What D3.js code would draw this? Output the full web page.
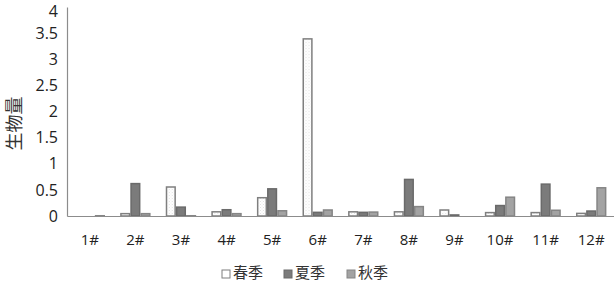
<!DOCTYPE html>
<html>
<head>
<meta charset="utf-8">
<script src="https://cdn.jsdelivr.net/npm/d3@7"></script>
<style>
  body { margin: 0; background: #fff; }
  svg { display: block; }
  text { font-family: "Open Sans", "Liberation Sans", sans-serif; fill: #222; }
  .cjk { font-family: "Noto Sans CJK SC", sans-serif; }
</style>
</head>
<body>
<svg id="chart" width="614" height="284"></svg>
<script>
// 站点与季节
const sites = ["1#", "2#", "3#", "4#", "5#", "6#", "7#", "8#", "9#", "10#", "11#", "12#"];
const seasons = ["春季", "夏季", "秋季"];

// 各季节生物量
const spring = [0, 0.045, 0.555, 0.08, 0.35, 3.39, 0.08, 0.08, 0.115, 0.065, 0.065, 0.05];
const summer = [0, 0.62, 0.17, 0.12, 0.52, 0.07, 0.07, 0.70, 0.02, 0.20, 0.61, 0.095];
const autumn = [0.005, 0.045, 0.005, 0.045, 0.10, 0.115, 0.075, 0.18, 0, 0.36, 0.11, 0.54];

const yTicks = [0, 0.5, 1, 1.5, 2, 2.5, 3, 3.5, 4];
const yTickLabels = ["0", "0.5", "1", "1.5", "2", "2.5", "3", "3.5", "4"];

const seriesValues = [spring, summer, autumn];
const fills = ["url(#spring-dots)", "#7b7b7b", "#a3a3a3"];
const strokes = ["#7f7f7f", "#6a6a6a", "#858585"];

const svg = d3.select("#chart");
const margin = { left: 67, right: 0, top: 7, bottom: 68 };
const width = 614, height = 284;

// 春季的浅色点状填充
const defs = svg.append("defs");
const pat = defs.append("pattern")
  .attr("id", "spring-dots")
  .attr("width", 3).attr("height", 3)
  .attr("patternUnits", "userSpaceOnUse");
pat.append("rect").attr("width", 3).attr("height", 3).attr("fill", "#fff");
pat.append("rect").attr("width", 1).attr("height", 1).attr("fill", "#e2e2e2");
pat.append("rect").attr("x", 1.5).attr("y", 1.5).attr("width", 1).attr("height", 1).attr("fill", "#ececec");

const x0 = d3.scaleBand()
  .domain(sites)
  .range([margin.left, width - margin.right])
  .paddingInner(0.333)
  .paddingOuter(0.1665);

const x1 = d3.scaleBand()
  .domain(seasons)
  .range([0, x0.bandwidth()]);

const y = d3.scaleLinear()
  .domain([0, 4])
  .range([height - margin.bottom, margin.top]);

// 柱子
const groups = svg.append("g").selectAll("g")
  .data(sites)
  .join("g")
  .attr("transform", d => `translate(${x0(d)},0)`);

groups.selectAll("rect")
  .data((d, i) => seasons.map((s, k) => ({ season: s, k, value: seriesValues[k][i] })))
  .join("rect")
  .attr("x", d => x1(d.season) + 0.75)
  .attr("width", x1.bandwidth() - 1.5)
  .attr("y", d => y(d.value))
  .attr("height", d => y(0) - y(d.value))
  .attr("fill", d => fills[d.k])
  .attr("stroke", d => strokes[d.k])
  .attr("stroke-width", 1.5);

// y 轴
const yAxis = svg.append("g")
  .attr("transform", `translate(${margin.left},0)`)
  .call(d3.axisLeft(y).tickValues(yTicks).tickFormat((d, i) => yTickLabels[i]).tickSize(0).tickPadding(9));
yAxis.select(".domain").attr("stroke", "#8c8c8c").attr("stroke-width", 1.2);
yAxis.selectAll("text").style("font-size", "16px").attr("fill", "#1a1a1a")
  .style("font-family", "'Open Sans', 'Liberation Sans', sans-serif");
// 顶部 “4” 稍下移以免被裁
yAxis.selectAll(".tick").filter(d => d === 4).select("text").attr("dy", "0.6em");

// x 轴
const xAxis = svg.append("g")
  .attr("transform", `translate(0,${y(0)})`)
  .call(d3.axisBottom(x0).tickSize(0).tickPadding(18).tickSizeOuter(0));
xAxis.select(".domain").attr("stroke", "#8c8c8c").attr("stroke-width", 1.2);
xAxis.selectAll("text").style("font-size", "15px").attr("fill", "#1a1a1a")
  .style("font-family", "'Open Sans', 'Liberation Sans', sans-serif");

// y 轴标题
svg.append("text")
  .attr("class", "cjk")
  .attr("transform", `translate(21,${(margin.top + y(0)) / 2 + 12}) rotate(-90)`)
  .attr("text-anchor", "middle")
  .style("font-size", "18px")
  .style("fill", "#333")
  .text("生物量");

// 图例
const legendX = [222, 284, 347];
const legend = svg.append("g").selectAll("g")
  .data(seasons)
  .join("g")
  .attr("transform", (d, i) => `translate(${legendX[i]},273)`);
legend.append("rect")
  .attr("x", 0).attr("y", -3)
  .attr("width", 8).attr("height", 8)
  .attr("fill", (d, i) => i === 0 ? "#fff" : fills[i])
  .attr("stroke", (d, i) => strokes[i])
  .attr("stroke-width", 1);
legend.append("text")
  .attr("class", "cjk")
  .attr("x", 11).attr("y", 1)
  .attr("dominant-baseline", "middle")
  .style("font-size", "15px")
  .style("fill", "#333")
  .text(d => d);
</script>
</body>
</html>
